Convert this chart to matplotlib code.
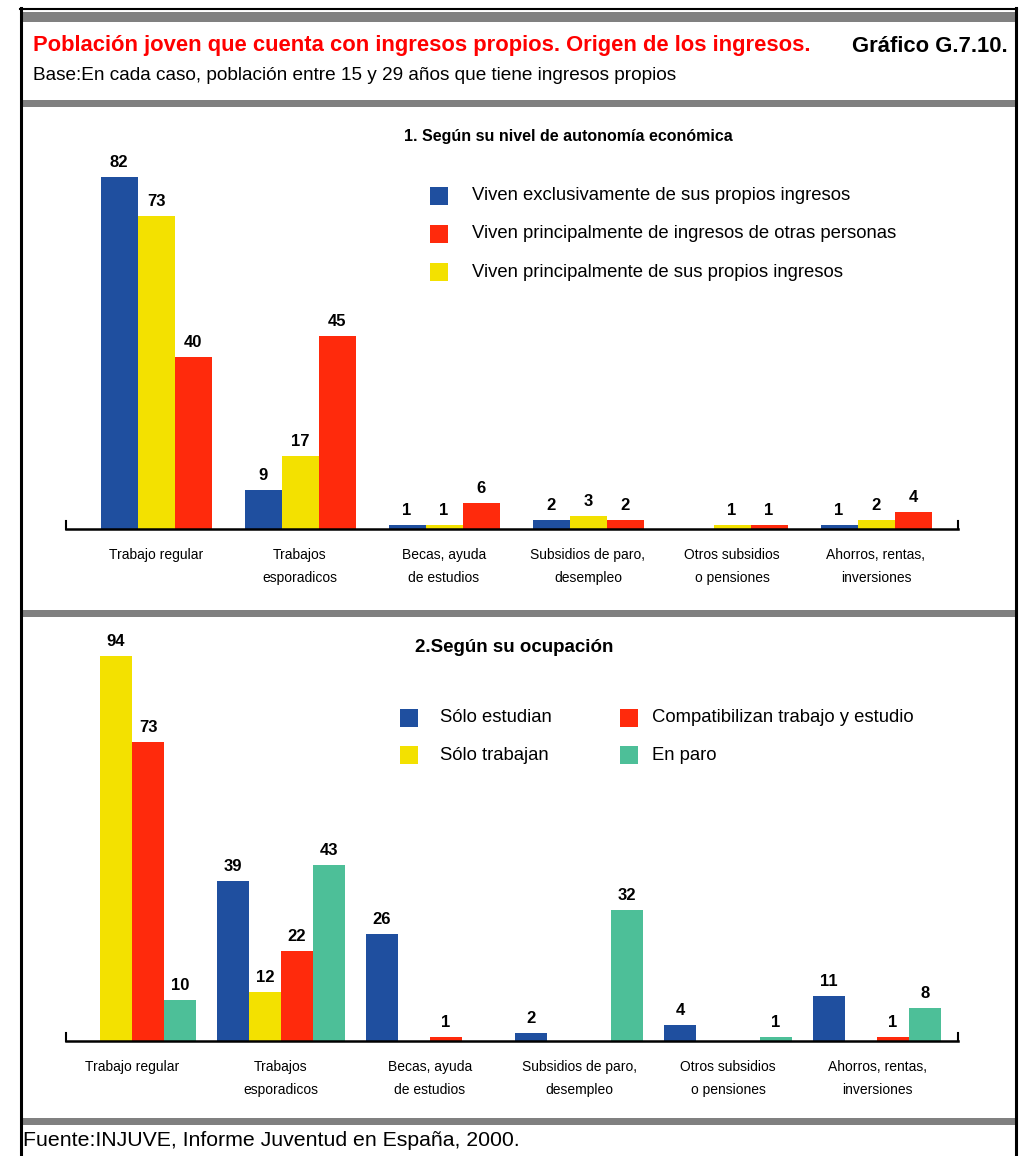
import matplotlib
matplotlib.use('Agg')
import matplotlib.pyplot as plt
from matplotlib.lines import Line2D
from matplotlib.patches import Rectangle
import numpy as np

# data
categories = ['Trabajo regular', 'Trabajos\nesporadicos', 'Becas, ayuda\nde estudios',
              'Subsidios de paro,\ndesempleo', 'Otros subsidios\no pensiones',
              'Ahorros, rentas,\ninversiones']

auto_labels = ['Viven exclusivamente de sus propios ingresos',
               'Viven principalmente de ingresos de otras personas',
               'Viven principalmente de sus propios ingresos']
auto_exclusivo = [82, 9, 1, 2, 0, 1]
auto_propios = [73, 17, 1, 3, 1, 2]
auto_otros = [40, 45, 6, 2, 1, 4]

ocup_labels = ['Sólo estudian', 'Sólo trabajan',
               'Compatibilizan trabajo y estudio', 'En paro']
ocup_estudian = [0, 39, 26, 2, 4, 11]
ocup_trabajan = [94, 12, 0, 0, 0, 0]
ocup_compat = [73, 22, 1, 0, 0, 1]
ocup_paro = [10, 43, 0, 32, 1, 8]

BLUE = '#1f4f9f'
YELLOW = '#f3e100'
RED = '#ff2a0c'
GREEN = '#4dbf98'
GREY = '#808080'

W, H = 1025, 1156
fig = plt.figure(figsize=(W / 100, H / 100), dpi=100)
ARIAL = ['Liberation Sans', 'DejaVu Sans']


def fx(x):
    return x / W


def fy(y):
    return 1 - y / H


def hline(y0, y1, x0=22, x1=1015, color=GREY):
    fig.patches.append(Rectangle((fx(x0), fy(y1)), fx(x1) - fx(x0), fy(y0) - fy(y1),
                                 transform=fig.transFigure, color=color, lw=0))


# frame
fig.lines.append(Line2D([fx(21), fx(21)], [fy(8), fy(1156)], color='black', lw=2.2,
                        transform=fig.transFigure))
fig.lines.append(Line2D([fx(1016), fx(1016)], [fy(8), fy(1156)], color='black', lw=2.2,
                        transform=fig.transFigure))
fig.lines.append(Line2D([fx(20), fx(1017)], [fy(8.5), fy(8.5)], color='black', lw=1.5,
                        transform=fig.transFigure))
hline(12, 22)
hline(100, 107)
hline(610, 617)
hline(1118, 1125)

# header
fig.text(fx(33), fy(46), 'Población joven que cuenta con ingresos propios. Origen de los ingresos.',
         color='#ff0000', fontsize=15.8, fontweight='bold', family=ARIAL, va='center')
fig.text(fx(1008), fy(46), 'Gráfico G.7.10.', color='black', fontsize=15.8,
         fontweight='bold', family=ARIAL, va='center', ha='right')
fig.text(fx(33), fy(76), 'Base:En cada caso, población entre 15 y 29 años que tiene ingresos propios',
         fontsize=13.7, family=ARIAL, va='center')
fig.text(fx(23), fy(1140), 'Fuente:INJUVE, Informe Juventud en España, 2000.',
         fontsize=15.3, family=ARIAL, va='center')


def panel(base_y, scale, centers_px, spacing, width_px, series, colors,
          title, title_x, title_y, title_size):
    x0, x1 = 66, 958
    top = base_y - 100 * scale
    ax = fig.add_axes([fx(x0), fy(base_y), fx(x1) - fx(x0), fy(top) - fy(base_y)])
    ax.set_xlim((x0 - centers_px) / spacing, (x1 - centers_px) / spacing)
    ax.set_ylim(0, 100)
    ax.patch.set_visible(False)
    ax.spines['top'].set_visible(False)
    for s in ['left', 'right']:
        ax.spines[s].set_bounds(0, 8 / scale)
        ax.spines[s].set_linewidth(1.5)
    ax.spines['bottom'].set_linewidth(1.8)
    ax.set_yticks([])
    x = np.arange(len(categories))
    bw = width_px / spacing
    n = len(series)
    for k, (vals, col) in enumerate(zip(series, colors)):
        pos = x + (k - (n - 1) / 2) * bw
        for p, v in zip(pos, vals):
            if v <= 0:
                continue
            ax.bar(p, v, width=bw, color=col, lw=0)
            ax.annotate(str(v), (p, v), xytext=(0, 5), textcoords='offset points',
                        ha='center', va='bottom', fontsize=12, fontweight='bold',
                        family=ARIAL)
    ax.set_xticks(x)
    ax.set_xticklabels(categories, family=ARIAL, fontsize=10, linespacing=1.75, va='top')
    ax.tick_params(axis='x', length=0, pad=14)
    fig.text(fx(title_x), fy(title_y), title, ha='center', va='center',
             fontsize=title_size, fontweight='bold', family=ARIAL)
    return ax


ax1 = panel(529, 4.29, 156, 144, 37,
            [auto_exclusivo, auto_propios, auto_otros], [BLUE, YELLOW, RED],
            '1. Según su nivel de autonomía económica', 568, 137, 11.5)
ax2 = panel(1041, 4.1, 132, 149, 32,
            [ocup_estudian, ocup_trabajan, ocup_compat, ocup_paro],
            [BLUE, YELLOW, RED, GREEN], '2.Según su ocupación', 514, 648, 13.5)


def legend_item(x, tx, y, color, label):
    fig.patches.append(Rectangle((fx(x), fy(y + 9)), fx(18), 18 / H,
                                 transform=fig.transFigure, color=color, lw=0))
    fig.text(fx(tx), fy(y), label, va='center', fontsize=13.3, family=ARIAL)


for yy, col, lab in zip([196, 234, 272], [BLUE, RED, YELLOW], auto_labels):
    legend_item(430, 472, yy, col, lab)

legend_item(400, 440, 718, BLUE, ocup_labels[0])
legend_item(400, 440, 755, YELLOW, ocup_labels[1])
legend_item(620, 652, 718, RED, ocup_labels[2])
legend_item(620, 652, 755, GREEN, ocup_labels[3])

fig.savefig('out.png', dpi=100)
